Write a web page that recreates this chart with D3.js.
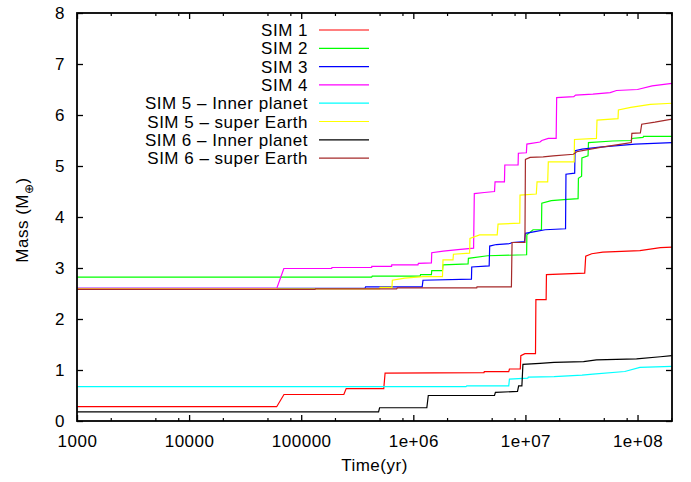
<!DOCTYPE html>
<html>
<head>
<meta charset="utf-8">
<script src="https://cdn.jsdelivr.net/npm/d3@7"></script>
<style>
  html, body { margin: 0; padding: 0; background: #fff; }
  svg { display: block; }
  text { font-family: "Liberation Sans", Arial, Helvetica, sans-serif; fill: #000; }
</style>
</head>
<body>
<svg id="chart" width="691" height="482"></svg>
<script>
// ---- data (time in yr, mass in Earth masses) ----
const seriesNames = ["SIM 1", "SIM 2", "SIM 3", "SIM 4",
  "SIM 5 \u2013 Inner planet", "SIM 5 \u2013 super Earth",
  "SIM 6 \u2013 Inner planet", "SIM 6 \u2013 super Earth"];
const seriesColors = ["#ff0000", "#00ff00", "#0000ff", "#ff00ff",
  "#00ffff", "#ffff00", "#000000", "#a52a2a"];

const sim1 = [[1e3,0.28],[6.04e4,0.28],[7.02e4,0.52],[2.4e5,0.52],[2.52e5,0.635],[5.45e5,0.635],[5.6e5,0.94],[4.27e6,0.95],[4.3e6,0.97],[7.1e6,0.97],[7.2e6,1.02],[9.0e6,1.02],[9.1e6,1.28],[9.9e6,1.32],[1.23e7,1.32],[1.24e7,2.38],[1.53e7,2.38],[1.54e7,2.87],[3.38e7,2.9],[3.45e7,3.23],[3.9e7,3.28],[4.9e7,3.31],[1.05e8,3.34],[1.6e8,3.4],[2.03e8,3.41]];
const sim2 = [[1e3,2.82],[4.25e5,2.82],[4.3e5,2.84],[1.15e6,2.84],[1.16e6,2.87],[1.45e6,2.87],[1.46e6,2.95],[1.82e6,2.95],[1.84e6,3.06],[3.08e6,3.08],[3.1e6,3.19],[4.6e6,3.24],[1.025e7,3.26],[1.03e7,3.65],[1.17e7,3.75],[1.39e7,3.75],[1.4e7,4.27],[1.7e7,4.32],[2.2e7,4.34],[2.95e7,4.36],[2.97e7,4.76],[3.17e7,4.8],[3.19e7,5.16],[3.62e7,5.2],[3.65e7,5.46],[6.0e7,5.49],[8.8e7,5.5],[8.9e7,5.54],[1.12e8,5.56],[1.13e8,5.58],[2.03e8,5.58]];
const sim3 = [[1e3,2.6],[3.7e5,2.6],[3.75e5,2.63],[1.2e6,2.63],[1.22e6,2.76],[3.3e6,2.78],[3.32e6,3.02],[4.75e6,3.04],[4.8e6,3.43],[5.5e6,3.46],[7.3e6,3.48],[7.6e6,3.5],[9.8e6,3.52],[1.0e7,3.68],[1.18e7,3.71],[1.5e7,3.75],[2.28e7,3.77],[2.3e7,4.84],[2.75e7,4.86],[2.77e7,5.3],[3.2e7,5.33],[4.6e7,5.37],[7.5e7,5.41],[9.5e7,5.43],[2.03e8,5.46]];
const sim4 = [[1e3,2.6],[6.05e4,2.6],[7.0e4,2.99],[1.87e5,2.99],[1.88e5,3.01],[4.25e5,3.01],[4.26e5,3.03],[6.4e5,3.03],[6.42e5,3.06],[1.1e6,3.06],[1.11e6,3.09],[1.45e6,3.1],[1.46e6,3.3],[1.85e6,3.33],[2.5e6,3.36],[3.45e6,3.39],[3.5e6,4.46],[4.3e6,4.48],[5.3e6,4.5],[5.36e6,4.69],[6.5e6,4.69],[6.55e6,5.02],[8.6e6,5.02],[8.65e6,5.25],[1.02e7,5.26],[1.03e7,5.43],[1.35e7,5.47],[1.4e7,5.5],[1.6e7,5.54],[1.88e7,5.54],[1.9e7,6.34],[2.7e7,6.36],[2.8e7,6.39],[4.0e7,6.41],[5.7e7,6.44],[6.5e7,6.48],[1.0e8,6.5],[1.35e8,6.57],[2.03e8,6.62]];
const sim5Inner = [[1e3,0.675],[2.95e6,0.675],[3.0e6,0.69],[7.1e6,0.69],[7.2e6,0.82],[1.05e7,0.84],[1.06e7,0.86],[1.8e7,0.87],[3.2e7,0.9],[4.0e7,0.92],[7.7e7,0.97],[1.05e8,1.05],[2.03e8,1.07]];
const sim5Super = [[1e3,2.59],[5.0e5,2.59],[5.05e5,2.62],[6.45e5,2.62],[6.5e5,2.76],[8.4e5,2.8],[1.22e6,2.83],[1.82e6,2.83],[1.84e6,3.16],[2.26e6,3.16],[2.28e6,3.27],[3.18e6,3.29],[3.2e6,3.58],[3.9e6,3.65],[5.6e6,3.65],[5.7e6,3.86],[8.9e6,3.88],[8.95e6,4.43],[1.25e7,4.45],[1.27e7,4.69],[1.58e7,4.69],[1.6e7,5.08],[2.72e7,5.08],[2.74e7,5.52],[4.3e7,5.54],[4.35e7,5.9],[6.7e7,5.93],[6.75e7,6.1],[8.7e7,6.15],[1.3e8,6.21],[2.03e8,6.23]];
const sim6Inner = [[1e3,0.18],[4.9e5,0.18],[5.0e5,0.26],[1.32e6,0.26],[1.36e6,0.5],[5.3e6,0.5],[5.4e6,0.56],[8.5e6,0.58],[8.7e6,0.69],[9.3e6,0.69],[9.5e6,1.11],[1.35e7,1.13],[1.8e7,1.15],[3.3e7,1.165],[4.3e7,1.2],[9.8e7,1.22],[1.6e8,1.26],[2.03e8,1.28]];
const sim6Super = [[1e3,2.58],[1.33e5,2.58],[1.34e5,2.59],[7.1e5,2.59],[7.2e5,2.61],[3.68e6,2.61],[3.7e6,2.63],[7.5e6,2.63],[7.6e6,3.5],[9.9e6,3.5],[1.0e7,5.13],[1.1e7,5.17],[1.44e7,5.18],[1.77e7,5.2],[2.68e7,5.23],[2.87e7,5.28],[3.4e7,5.31],[4.8e7,5.37],[7.2e7,5.43],[8.8e7,5.46],[8.9e7,5.64],[1.06e8,5.65],[1.09e8,5.82],[1.43e8,5.86],[2.03e8,5.92]];

const seriesData = [sim1, sim2, sim3, sim4, sim5Inner, sim5Super, sim6Inner, sim6Super];

const xDomain = [1e3, 2.03e8];
const yDomain = [0, 8];
const xTickValues = [1e3, 1e4, 1e5, 1e6, 1e7, 1e8];
const xTickLabels = ["1000", "10000", "100000", "1e+06", "1e+07", "1e+08"];
const yTickValues = [0, 1, 2, 3, 4, 5, 6, 7, 8];
const minorMultipliers = [2, 5, 8];

// ---- layout ----
const svg = d3.select("#chart");
const L = 77, R = 672, T = 13, B = 421;
const x = d3.scaleLog().domain(xDomain).range([L, R]);
const y = d3.scaleLinear().domain(yDomain).range([B, T]);

const FS = 17;
const LS = "0.5px";

// data lines (clipped)
svg.append("clipPath").attr("id", "clip")
  .append("rect").attr("x", L).attr("y", T).attr("width", R - L).attr("height", B - T);

const line = d3.line().x(d => x(d[0])).y(d => y(d[1]));
const gLines = svg.append("g").attr("clip-path", "url(#clip)");
seriesData.forEach((s, i) => {
  gLines.append("path")
    .datum(s)
    .attr("d", line)
    .attr("fill", "none")
    .attr("stroke", seriesColors[i])
    .attr("stroke-width", 1.2)
    .attr("stroke-linejoin", "miter");
});

// axes with ticks inward
const minorTicks = [];
for (let p = 3; p <= 8; p++) {
  minorMultipliers.forEach(m => {
    const v = m * Math.pow(10, p);
    if (v < xDomain[1]) minorTicks.push(v);
  });
}

const axB = d3.axisBottom(x).tickValues(xTickValues)
  .tickFormat((d, i) => xTickLabels[i]).tickSizeInner(-6).tickSizeOuter(0).tickPadding(14);
const gB = svg.append("g").attr("transform", `translate(0,${B})`).call(axB);
gB.select(".domain").remove();
gB.selectAll("line").attr("stroke", "#000").attr("stroke-width", 1.3);
gB.selectAll("text").attr("font-size", FS).attr("letter-spacing", LS)
  .attr("font-family", '"Liberation Sans", Arial, sans-serif').attr("fill", "#000");

const axBm = d3.axisBottom(x).tickValues(minorTicks).tickFormat("").tickSizeInner(-3).tickSizeOuter(0);
const gBm = svg.append("g").attr("transform", `translate(0,${B})`).call(axBm);
gBm.select(".domain").remove();
gBm.selectAll("line").attr("stroke", "#000").attr("stroke-width", 1.2);

const axT = d3.axisTop(x).tickValues(xTickValues).tickFormat("").tickSizeInner(-6).tickSizeOuter(0);
const gT = svg.append("g").attr("transform", `translate(0,${T})`).call(axT);
gT.select(".domain").remove();
gT.selectAll("line").attr("stroke", "#000").attr("stroke-width", 1.3);
const axTm = d3.axisTop(x).tickValues(minorTicks).tickFormat("").tickSizeInner(-3).tickSizeOuter(0);
const gTm = svg.append("g").attr("transform", `translate(0,${T})`).call(axTm);
gTm.select(".domain").remove();
gTm.selectAll("line").attr("stroke", "#000").attr("stroke-width", 1.2);

const axL = d3.axisLeft(y).tickValues(yTickValues).tickFormat(d3.format("d"))
  .tickSizeInner(-6).tickSizeOuter(0).tickPadding(12);
const gL = svg.append("g").attr("transform", `translate(${L},0)`).call(axL);
gL.select(".domain").remove();
gL.selectAll("line").attr("stroke", "#000").attr("stroke-width", 1.3);
gL.selectAll("text").attr("font-size", FS).attr("letter-spacing", LS)
  .attr("font-family", '"Liberation Sans", Arial, sans-serif').attr("fill", "#000");

const axR = d3.axisRight(y).tickValues(yTickValues).tickFormat("").tickSizeInner(-6).tickSizeOuter(0);
const gR = svg.append("g").attr("transform", `translate(${R},0)`).call(axR);
gR.select(".domain").remove();
gR.selectAll("line").attr("stroke", "#000").attr("stroke-width", 1.3);

// frame
svg.append("rect").attr("x", L).attr("y", T).attr("width", R - L).attr("height", B - T)
  .attr("fill", "none").attr("stroke", "#000").attr("stroke-width", 1.8);

// axis titles
svg.append("text").attr("x", (L + R) / 2).attr("y", 471).attr("text-anchor", "middle")
  .attr("font-size", FS).attr("letter-spacing", LS).text("Time(yr)");

const yt = svg.append("text")
  .attr("transform", `translate(28,${(T + B) / 2 + 3}) rotate(-90)`)
  .attr("text-anchor", "middle").attr("font-size", FS).attr("letter-spacing", LS);
yt.append("tspan").text("Mass (M");
yt.append("tspan").attr("font-size", 12).attr("dy", 5).text("\u2295");
yt.append("tspan").attr("dy", -5).text(")");

// legend
const legY0 = 30, legStep = 18.3;
const gLeg = svg.append("g");
seriesNames.forEach((name, i) => {
  const yy = legY0 + i * legStep;
  gLeg.append("text").attr("x", 308).attr("y", yy + 6).attr("text-anchor", "end")
    .attr("font-size", FS).attr("letter-spacing", LS).text(name);
  gLeg.append("line").attr("x1", 319).attr("x2", 369).attr("y1", yy).attr("y2", yy)
    .attr("stroke", seriesColors[i]).attr("stroke-width", 1.2);
});
</script>
</body>
</html>
